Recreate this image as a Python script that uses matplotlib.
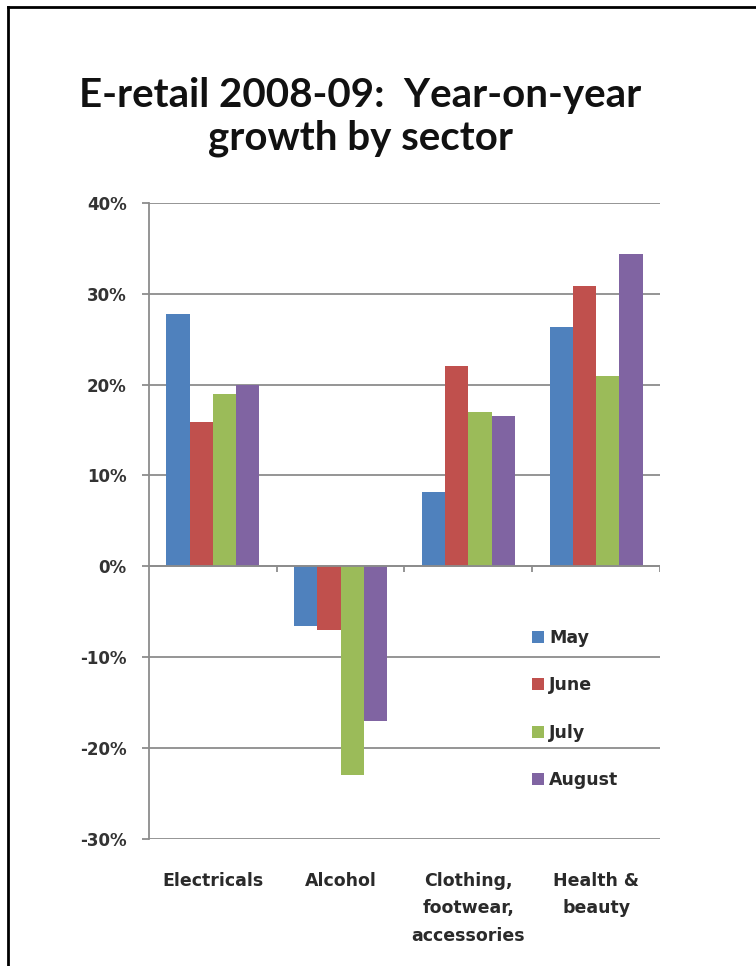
import numpy as np
import matplotlib.pyplot as plt
from matplotlib.lines import Line2D

# Year-on-year e-retail growth (%) by sector, May-August 2009
sectors = ["Electricals", "Alcohol", "Clothing,\nfootwear,\naccessories", "Health &\nbeauty"]
months = ["May", "June", "July", "August"]
may = [27.8, -6.6, 8.2, 26.3]
june = [15.9, -7.0, 22.0, 30.9]
july = [19.0, -23.0, 17.0, 20.9]
august = [20.0, -17.0, 16.5, 34.4]
yticks = [-30, -20, -10, 0, 10, 20, 30, 40]

colors = ["#4F81BD", "#C0504D", "#9BBB59", "#8064A2"]
grid_col = "#8C8C8C"
text_col = "#2A2A2A"

plt.rcParams['font.family'] = ['DejaVu Sans']
plt.rcParams['font.weight'] = 'bold'

fig = plt.figure(figsize=(7.56, 9.66), dpi=100)
ax = fig.add_axes([0.197, 0.1315, 0.676, 0.6585])

x = np.arange(len(sectors))
width = 1 / 5.5
series = [may, june, july, august]
for i, (vals, name) in enumerate(zip(series, months)):
    ax.bar(x + (i - 1.5) * width, vals, width, color=colors[i], label=name, zorder=3)

ax.set_xlim(-0.5, 3.5)
ax.set_ylim(yticks[0], yticks[-1])
ax.set_yticks(yticks)
ax.set_yticklabels([f"{t}%" for t in yticks], fontsize=12, color="#333333")
ax.yaxis.grid(True, color=grid_col, linewidth=1.3, zorder=0)
ax.tick_params(axis='y', length=5, width=1.3, color=grid_col, pad=11)

ax.set_xticks(x)
ax.set_xticklabels(sectors, fontsize=12.5, color=text_col, linespacing=1.65, va='top')
ax.tick_params(axis='x', length=0, pad=24)

for side in ['top', 'right', 'bottom']:
    ax.spines[side].set_visible(False)
ax.spines['left'].set_color(grid_col)
ax.spines['left'].set_linewidth(1.3)

# category axis at zero with small boundary ticks
ax.axhline(0, color=grid_col, linewidth=1.3, zorder=4)
ax.vlines(x + 0.5, -0.6, 0, color=grid_col, linewidth=1.3, zorder=4)

fig.text(0.477, 0.879, "E-retail 2008-09:  Year-on-year\ngrowth by sector",
         ha='center', va='center', fontsize=29, fontweight='bold',
         family=['Lato', 'DejaVu Sans'], color="#111111", linespacing=1.2)

fig.legend(loc='upper left', bbox_to_anchor=(0.692, 0.358), frameon=False,
           fontsize=12.5, handlelength=0.7, handleheight=0.7, handletextpad=0.3,
           labelspacing=1.7, borderpad=0, labelcolor=text_col)

# frame edges along the top and left of the image
fig.add_artist(Line2D([0.011, 1], [0.993, 0.993], transform=fig.transFigure,
                      color='black', linewidth=2))
fig.add_artist(Line2D([0.011, 0.011], [0, 0.993], transform=fig.transFigure,
                      color='black', linewidth=2))

fig.savefig("out.png", dpi=100)
